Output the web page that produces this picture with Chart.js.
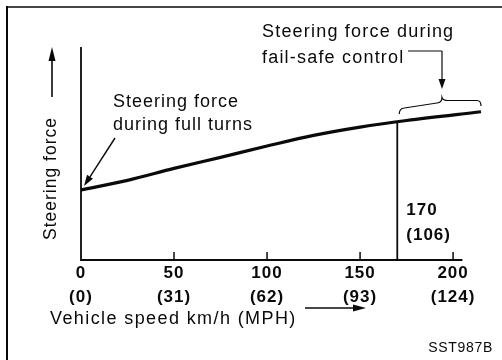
<!DOCTYPE html>
<html>
<head>
<meta charset="utf-8">
<script src="https://cdn.jsdelivr.net/npm/chart.js@4/dist/chart.umd.min.js"></script>
<style>
  html, body { margin: 0; padding: 0; background: #fff; }
  canvas { display: block; }
</style>
</head>
<body>
<canvas id="sst-chart" width="502" height="360"></canvas>
<script>
// Steering force vs vehicle speed (SST987B)

const speedKmh = [0, 25, 50, 75, 100, 125, 150, 175, 215];
const steeringForce = [32.9, 37.4, 43.0, 48.2, 53.5, 58.5, 62.4, 65.5, 69.6];

const tickKmh = [0, 50, 100, 150, 200];
const tickMph = [0, 31, 62, 93, 124];

const failSafeKmh = 170;
const failSafeMph = 106;
const failSafeForce = 64.9;
const axisEndKmh = 205;

const FONT = "'Liberation Sans', Arial, Helvetica, sans-serif";
const INK = '#0a0a0a';

function drawText(ctx, text, x, y, size, opts = {}) {
    ctx.save();
    ctx.font = (opts.bold ? 'bold ' : '') + size + 'px ' + FONT;
    ctx.letterSpacing = (opts.spacing ?? 1) + 'px';
    ctx.fillStyle = INK;
    ctx.textAlign = opts.align || 'left';
    ctx.textBaseline = 'alphabetic';
    ctx.fillText(text, x, y);
    ctx.restore();
}

function arrow(ctx, x1, y1, x2, y2, head, width, lw) {
    const ang = Math.atan2(y2 - y1, x2 - x1);
    const bx = x2 - head * Math.cos(ang);
    const by = y2 - head * Math.sin(ang);
    ctx.save();
    ctx.strokeStyle = INK;
    ctx.fillStyle = INK;
    ctx.lineWidth = lw;
    ctx.beginPath();
    ctx.moveTo(x1, y1);
    ctx.lineTo(bx, by);
    ctx.stroke();
    ctx.beginPath();
    ctx.moveTo(x2, y2);
    ctx.lineTo(bx + width / 2 * Math.sin(ang), by - width / 2 * Math.cos(ang));
    ctx.lineTo(bx - width / 2 * Math.sin(ang), by + width / 2 * Math.cos(ang));
    ctx.closePath();
    ctx.fill();
    ctx.restore();
}

const extras = {
    id: 'extras',
    beforeDraw(chart) {
        const ctx = chart.ctx;
        ctx.save();
        ctx.fillStyle = '#fff';
        ctx.fillRect(0, 0, chart.width, chart.height);
        // frame: left and top edges
        ctx.strokeStyle = INK;
        ctx.lineWidth = 2;
        ctx.beginPath();
        ctx.moveTo(7, 6);
        ctx.lineTo(7, chart.height);
        ctx.stroke();
        ctx.lineWidth = 1.3;
        ctx.beginPath();
        ctx.moveTo(6, 7);
        ctx.lineTo(chart.width, 7);
        ctx.stroke();
        ctx.restore();
        // tick labels get the same loose spacing as the rest of the text
        ctx.letterSpacing = '1px';
    },
    afterDraw(chart) {
        const ctx = chart.ctx;
        const xs = chart.scales.x;
        const ys = chart.scales.y;
        const x0 = xs.getPixelForValue(0);
        const yBase = ys.getPixelForValue(0);
        const yTop = ys.getPixelForValue(100);

        ctx.save();
        ctx.strokeStyle = INK;
        // axes
        ctx.lineWidth = 1.8;
        ctx.beginPath();
        ctx.moveTo(x0, yTop);
        ctx.lineTo(x0, yBase);
        ctx.lineTo(xs.getPixelForValue(axisEndKmh), yBase);
        ctx.stroke();
        // inward tick marks
        ctx.lineWidth = 1.5;
        tickKmh.slice(1).forEach(v => {
            const px = xs.getPixelForValue(v);
            ctx.beginPath();
            ctx.moveTo(px, yBase);
            ctx.lineTo(px, yBase - 8);
            ctx.stroke();
        });

        // brace over the fail-safe range
        const bl = xs.getPixelForValue(failSafeKmh) + 2;
        const br = xs.getPixelForValue(215);
        const tip = 442;
        ctx.lineWidth = 1.2;
        ctx.beginPath();
        ctx.moveTo(bl, 114);
        ctx.quadraticCurveTo(bl, 108.5, bl + 5, 108);
        ctx.lineTo(tip - 5, 103);
        ctx.quadraticCurveTo(tip, 102.5, tip, 97.5);
        ctx.quadraticCurveTo(tip + 1, 100.5, tip + 6, 100.5);
        ctx.lineTo(br - 4, 100.5);
        ctx.quadraticCurveTo(br, 100.5, br, 106);
        ctx.stroke();

        // leader from the fail-safe caption
        ctx.lineWidth = 1.2;
        ctx.beginPath();
        ctx.moveTo(408, 51);
        ctx.lineTo(tip, 51);
        ctx.stroke();
        ctx.restore();
        arrow(ctx, tip, 51, tip, 89, 10, 7, 1.2);

        // leader to the start of the curve
        arrow(ctx, 115, 138, x0 + 3, yBase - 74, 11, 7, 1.4);

        // y axis arrow and title
        arrow(ctx, 52, 97, 52, 47, 14, 7, 1.6);
        ctx.save();
        ctx.translate(56, 240);
        ctx.rotate(-Math.PI / 2);
        drawText(ctx, 'Steering force', 0, 0, 17.5);
        ctx.restore();

        // x axis title and arrow
        drawText(ctx, 'Vehicle speed km/h (MPH)', 50, 324, 18, { spacing: 1.4 });
        arrow(ctx, 305, 308, 366, 308, 13, 7, 1.4);

        // captions
        drawText(ctx, 'Steering force during', 262, 37, 18, { spacing: 1.2 });
        drawText(ctx, 'fail-safe control', 262, 63, 18, { spacing: 1.2 });
        drawText(ctx, 'Steering force', 113, 107, 18);
        drawText(ctx, 'during full turns', 113, 130, 18);

        // fail-safe speed
        const fx = xs.getPixelForValue(failSafeKmh) + 9;
        drawText(ctx, String(failSafeKmh), fx, 215, 17, { bold: true });
        drawText(ctx, '(' + failSafeMph + ')', fx, 240, 17, { bold: true });

        drawText(ctx, 'SST987B', 493, 352, 14, { align: 'right', spacing: 0.7 });
    }
};

new Chart(document.getElementById('sst-chart'), {
    type: 'line',
    data: {
        datasets: [{
            data: speedKmh.map((s, i) => ({ x: s, y: steeringForce[i] })),
            borderColor: INK,
            borderWidth: 3.2,
            pointRadius: 0,
            cubicInterpolationMode: 'monotone',
            clip: false
        }, {
            data: [{ x: failSafeKmh, y: 0 }, { x: failSafeKmh, y: failSafeForce }],
            borderColor: INK,
            borderWidth: 1.8,
            pointRadius: 0,
            clip: false
        }]
    },
    options: {
        responsive: false,
        animation: false,
        devicePixelRatio: 1,
        layout: { padding: { left: 81, right: 21, top: 47, bottom: 40 } },
        plugins: { legend: { display: false }, tooltip: { enabled: false } },
        scales: {
            x: {
                type: 'linear',
                min: 0,
                max: 215,
                grid: { display: false, drawTicks: false },
                border: { display: false },
                afterBuildTicks: scale => {
                    scale.ticks = tickKmh.map(v => ({ value: v }));
                },
                afterFit: scale => { scale.height = 60; },
                ticks: {
                    autoSkip: false,
                    maxRotation: 0,
                    padding: 1,
                    color: INK,
                    font: { family: FONT, size: 17, weight: 'bold', lineHeight: 1.42 },
                    callback: v => [String(v), '(' + tickMph[tickKmh.indexOf(v)] + ')']
                }
            },
            y: { display: false, min: 0, max: 100 }
        }
    },
    plugins: [extras]
});
</script>
</body>
</html>
